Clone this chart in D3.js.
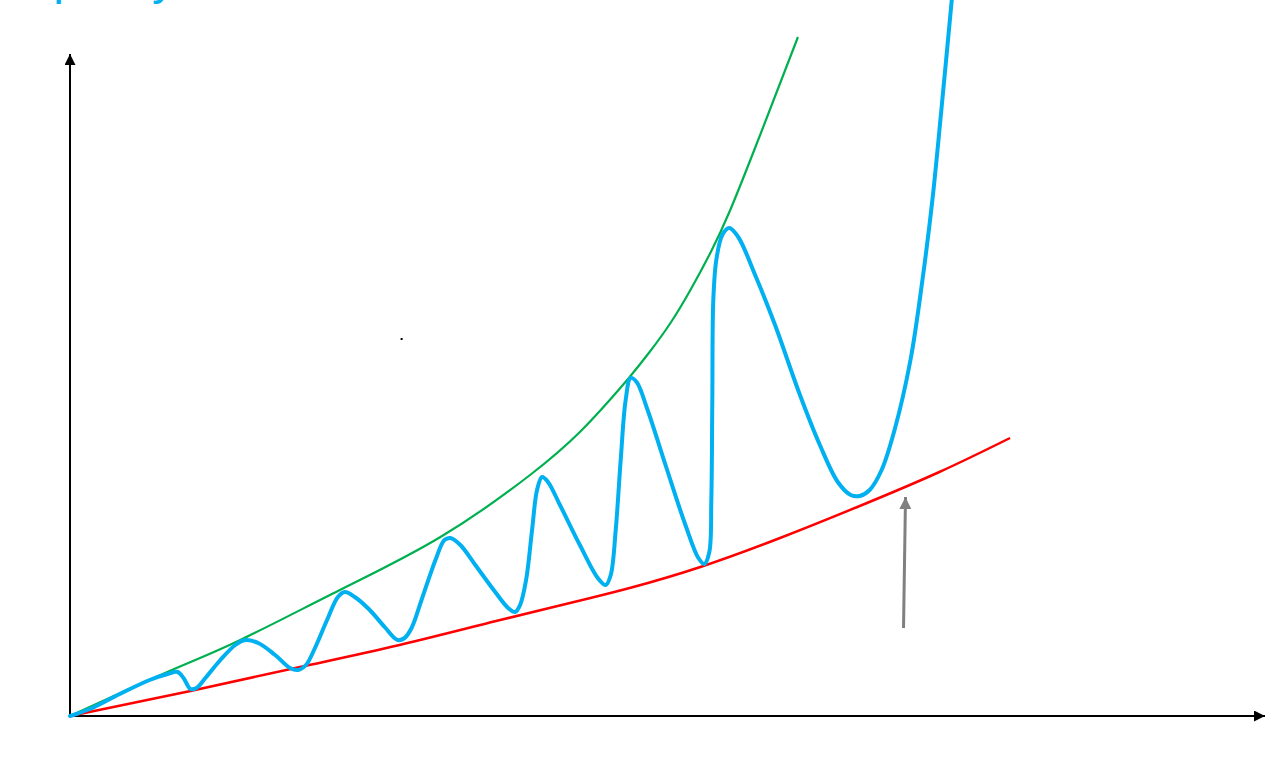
<!DOCTYPE html>
<html>
<head>
<meta charset="utf-8">
<script src="https://cdn.jsdelivr.net/npm/d3@7"></script>
<style>
  html, body { margin: 0; padding: 0; background: #ffffff; overflow: hidden; }
  svg { display: block; }
</style>
</head>
<body>
<svg id="chart" width="1275" height="784"></svg>
<script>
// ---- data (arbitrary units: time on x, level on y) ----
const priceX = [0.0,2.0,5.0,8.0,9.8,10.8,11.4,12.1,12.7,13.6,15.1,16.6,17.6,18.9,20.6,22.1,22.9,23.7,24.6,25.9,26.9,27.6,28.6,30.1,31.6,32.9,33.6,34.3,35.3,36.7,37.6,38.2,39.2,40.7,42.7,44.0,44.7,45.2,45.8,46.4,46.9,47.4,48.0,49.2,51.2,53.0,53.8,54.3,54.8,55.3,55.8,56.3,56.9,58.0,59.8,61.8,63.1,63.7,64.2,64.4,64.5,64.6,64.9,65.5,66.2,67.1,68.8,70.8,73.3,75.3,77.1,78.4,79.3,80.3,81.5,82.8,84.4,85.6,86.6,87.5,88.6];
const priceY = [0.0,0.7,2.2,3.6,4.2,4.4,3.8,2.7,2.8,3.8,5.6,7.1,7.6,7.3,6.1,4.8,4.6,5.1,6.8,9.8,11.9,12.4,11.9,10.6,8.9,7.6,7.8,8.8,11.6,15.6,17.6,17.8,17.1,15.1,12.4,10.8,10.4,11.1,13.6,18.6,22.6,23.9,23.4,21.1,17.1,13.8,13.1,14.1,18.6,25.6,31.6,33.8,33.4,30.6,25.1,19.1,15.8,15.2,16.4,21.6,31.6,41.6,45.6,48.1,48.8,47.9,44.1,39.1,32.1,27.1,23.4,22.1,22.0,22.6,24.6,28.6,35.6,43.6,51.6,60.6,72.2];

const upperX = [0.0,10.0,17.1,27.1,37.2,46.2,51.2,54.2,56.2,58.2,60.3,62.3,64.3,66.3,69.3,73.1];
const upperY = [0.0,4.5,7.6,12.6,17.9,24.1,28.4,31.6,33.9,36.4,39.3,42.6,46.3,50.6,58.1,67.9];

const lowerX = [0.0,12.1,23.1,33.1,43.2,50.2,56.2,63.3,71.3,79.3,87.3,94.4];
const lowerY = [0.0,2.5,4.9,7.1,9.6,11.3,12.8,14.9,17.8,21.0,24.4,27.8];

const arrowX = [83.7, 83.9];
const arrowY = [8.8, 21.9];

const dotX = [33.2];
const dotY = [37.8];

const titleText = "Liquidity";

// ---- layout ----
const svg = d3.select("#chart");
const x = d3.scaleLinear().domain([0, 120]).range([70, 1265]);
const y = d3.scaleLinear().domain([0, 66]).range([716, 56]);

const defs = svg.append("defs");
function marker(id, color, w, h) {
  defs.append("marker")
    .attr("id", id)
    .attr("viewBox", "0 0 10 10")
    .attr("refX", 10).attr("refY", 5)
    .attr("markerUnits", "userSpaceOnUse")
    .attr("markerWidth", w).attr("markerHeight", h)
    .attr("orient", "auto")
    .append("path")
    .attr("d", "M0,0 L10,5 L0,10 Z")
    .attr("fill", color);
}
marker("axisArrow", "#000", 12, 11);
marker("greyArrow", "#808080", 13, 12);

// title (cut off at the top edge, as in the original)
svg.append("text")
  .attr("x", 0).attr("y", -6)
  .attr("font-family", "Liberation Sans, Arial, sans-serif")
  .attr("font-size", 48)
  .attr("fill", "#00b0f0")
  .text(titleText);

// axes
const xAxisEnd = 120, yAxisEnd = 66.2;
svg.append("line")
  .attr("x1", x(0)).attr("y1", y(0))
  .attr("x2", x(xAxisEnd)).attr("y2", y(0))
  .attr("stroke", "#000").attr("stroke-width", 2)
  .attr("marker-end", "url(#axisArrow)");
svg.append("line")
  .attr("x1", x(0)).attr("y1", y(0))
  .attr("x2", x(0)).attr("y2", y(yAxisEnd))
  .attr("stroke", "#000").attr("stroke-width", 2)
  .attr("marker-end", "url(#axisArrow)");

const zip = (xs, ys) => xs.map((v, i) => [v, ys[i]]);
const wave = d3.line()
  .x(d => x(d[0])).y(d => y(d[1]))
  .curve(d3.curveCatmullRom.alpha(0.5));
const smooth = d3.line()
  .x(d => x(d[0])).y(d => y(d[1]))
  .curve(d3.curveNatural);

// lower (red) trend
svg.append("path")
  .datum(zip(lowerX, lowerY))
  .attr("d", smooth)
  .attr("fill", "none")
  .attr("stroke", "#ff0000")
  .attr("stroke-width", 2.5);

// upper (green) envelope
svg.append("path")
  .datum(zip(upperX, upperY))
  .attr("d", smooth)
  .attr("fill", "none")
  .attr("stroke", "#00b050")
  .attr("stroke-width", 2.2);

// price (blue) wave
svg.append("path")
  .datum(zip(priceX, priceY))
  .attr("d", wave)
  .attr("fill", "none")
  .attr("stroke", "#00b0f0")
  .attr("stroke-width", 4)
  .attr("stroke-linejoin", "round")
  .attr("stroke-linecap", "round");

// grey arrow
svg.append("line")
  .attr("x1", x(arrowX[0])).attr("y1", y(arrowY[0]))
  .attr("x2", x(arrowX[1])).attr("y2", y(arrowY[1]))
  .attr("stroke", "#808080").attr("stroke-width", 3)
  .attr("marker-end", "url(#greyArrow)");

// stray dot
svg.selectAll("rect.dot")
  .data(zip(dotX, dotY))
  .enter().append("rect")
  .attr("class", "dot")
  .attr("x", d => x(d[0])).attr("y", d => y(d[1]))
  .attr("width", 2).attr("height", 2)
  .attr("fill", "#000");
</script>
</body>
</html>
